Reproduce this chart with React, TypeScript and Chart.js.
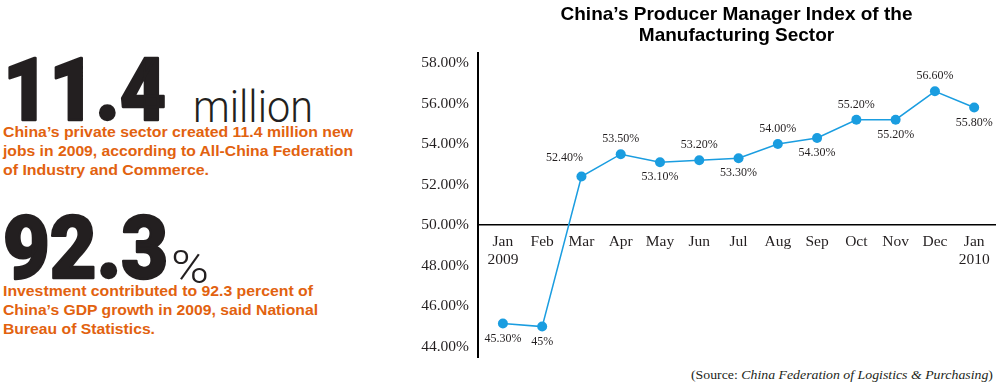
import React, { useEffect, useRef } from "react";
import { Chart, registerables } from "chart.js";

Chart.register(...registerables);

// ---- data ----
const monthLabels: string[][] = [
  ["Jan", "2009"], ["Feb"], ["Mar"], ["Apr"], ["May"], ["Jun"], ["Jul"],
  ["Aug"], ["Sep"], ["Oct"], ["Nov"], ["Dec"], ["Jan", "2010"],
];
const pmiValues: number[] = [45.15, 45.0, 52.4, 53.5, 53.1, 53.2, 53.3, 54.0, 54.3, 55.2, 55.2, 56.6, 55.8];
const pmiLabels: string[] = [
  "45.30%", "45%", "52.40%", "53.50%", "53.10%", "53.20%", "53.30%",
  "54.00%", "54.30%", "55.20%", "55.20%", "56.60%", "55.80%",
];
const labelPlacement: string[] = [
  "below", "below", "aboveLeft", "above", "below", "above", "below",
  "above", "below", "above", "below", "above", "below",
];
const yTicks: number[] = [44, 46, 48, 50, 52, 54, 56, 58];
const titleLines: string[] = ["China\u2019s Producer Manager Index of the", "Manufacturing Sector"];

const BLUE = "#1a9de0";
const INK = "#231f20";
const ORANGE = "#e2620f";
const SERIF = "'Liberation Serif', 'Times New Roman', serif";
const SANS = "'Liberation Sans', Arial, sans-serif";
const HEAVY = "Roboto, 'Liberation Sans', Arial, sans-serif";

const pointLabelPlugin = {
  id: "pointLabels",
  afterDatasetsDraw(chart: any) {
    const ctx = chart.ctx;
    const meta = chart.getDatasetMeta(0);
    ctx.save();
    ctx.font = `12px ${SERIF}`;
    ctx.fillStyle = INK;
    ctx.textAlign = "center";
    ctx.textBaseline = "middle";
    meta.data.forEach((pt: any, i: number) => {
      const place = labelPlacement[i];
      let dx = 0;
      let dy = 15;
      if (place === "above") dy = -15;
      if (place === "aboveLeft") {
        dx = -17;
        dy = -19;
      }
      ctx.fillText(pmiLabels[i], pt.x + dx, pt.y + dy);
    });
    ctx.restore();
  },
};

function PmiChart() {
  const ref = useRef<HTMLCanvasElement | null>(null);
  useEffect(() => {
    if (!ref.current) return;
    const chart = new Chart(ref.current, {
      type: "line",
      data: {
        datasets: [
          {
            data: pmiValues.map((v, i) => ({ x: i, y: v })),
            borderColor: BLUE,
            backgroundColor: BLUE,
            pointBackgroundColor: BLUE,
            pointBorderColor: BLUE,
            pointBorderWidth: 0,
            pointRadius: 5,
            borderWidth: 1.5,
            tension: 0,
            clip: false as any,
          },
        ],
      },
      options: {
        animation: false,
        responsive: false,
        devicePixelRatio: 1,
        layout: { padding: { left: 0, right: 3, top: 0, bottom: 35 } },
        plugins: {
          legend: { display: false },
          tooltip: { enabled: false },
          title: {
            display: true,
            text: titleLines,
            fullSize: false,
            color: "#000",
            font: { family: SANS, size: 19, weight: "bold", lineHeight: 1.1 },
            padding: { top: 4, bottom: 7 },
          },
        },
        scales: {
          x: {
            type: "linear",
            min: -0.634,
            max: 12.53,
            position: { y: 50 } as any,
            grid: { display: false, drawTicks: true, tickLength: 6 },
            border: { display: true, color: "#000", width: 1.5 },
            ticks: {
              padding: 2,
              autoSkip: false,
              maxRotation: 0,
              color: INK,
              font: { family: SERIF, size: 15.5, lineHeight: 1.16 },
              callback: (v: any) => monthLabels[v as number],
            },
            afterBuildTicks: (s: any) => {
              s.ticks = monthLabels.map((_, i) => ({ value: i }));
            },
            afterFit: (s: any) => {
              s.height = 0;
            },
          },
          y: {
            type: "linear",
            min: 43.5,
            max: 58.5,
            grid: { display: false, drawTicks: false },
            border: { display: true, color: "#000", width: 2 },
            ticks: {
              padding: 9,
              color: INK,
              font: { family: SERIF, size: 15.5 },
              callback: (v: any) => Number(v).toFixed(2) + "%",
            },
            afterBuildTicks: (s: any) => {
              s.ticks = yTicks.map((v) => ({ value: v }));
            },
            afterFit: (s: any) => {
              s.width = 98;
            },
          },
        },
      },
      plugins: [pointLabelPlugin],
    });
    return () => chart.destroy();
  }, []);
  return (
    <canvas
      ref={ref}
      width={620}
      height={392}
      style={{ position: "absolute", left: 380, top: 0, width: 620, height: 392 }}
    />
  );
}

export default function App() {
  return (
    <div style={{ position: "absolute", left: 0, top: 0, width: 1000, height: 392, background: "#fff", overflow: "hidden" }}>
      <svg width={1000} height={392} style={{ position: "absolute", left: 0, top: 0 }}>
        <text x={3} y={120} fontFamily={HEAVY} fontWeight={900} fontSize={88}
          fill={INK} stroke={INK} strokeWidth={2.5} strokeLinejoin="round"
          textLength={163} lengthAdjust="spacingAndGlyphs">11.4</text>
        <text x={193} y={122} fontFamily={HEAVY} fontWeight={300} fontSize={44}
          fill={INK} textLength={120} lengthAdjust="spacingAndGlyphs">million</text>
        <g fontFamily={SANS} fontWeight={700} fontSize={15} fill={ORANGE}>
          <text x={3} y={137} textLength={350} lengthAdjust="spacingAndGlyphs">China’s private sector created 11.4 million new</text>
          <text x={3} y={156} textLength={350} lengthAdjust="spacingAndGlyphs">jobs in 2009, according to All-China Federation</text>
          <text x={3} y={175} textLength={206} lengthAdjust="spacingAndGlyphs">of Industry and Commerce.</text>
        </g>
        <text x={3} y={278} fontFamily={HEAVY} fontWeight={900} fontSize={88}
          fill={INK} stroke={INK} strokeWidth={2.5} strokeLinejoin="round"
          textLength={165} lengthAdjust="spacingAndGlyphs">92.3</text>
        <text x={171} y={283} fontFamily={HEAVY} fontWeight={300} fontSize={46}
          fill={INK} textLength={38} lengthAdjust="spacingAndGlyphs">%</text>
        <g fontFamily={SANS} fontWeight={700} fontSize={15} fill={ORANGE}>
          <text x={3} y={296} textLength={310} lengthAdjust="spacingAndGlyphs">Investment contributed to 92.3 percent of</text>
          <text x={3} y={315} textLength={315} lengthAdjust="spacingAndGlyphs">China’s GDP growth in 2009, said National</text>
          <text x={3} y={334} textLength={152} lengthAdjust="spacingAndGlyphs">Bureau of Statistics.</text>
        </g>
        <text x={691} y={379} fontFamily={SERIF} fontSize={13} fill={INK} textLength={302} lengthAdjust="spacingAndGlyphs">
          (Source: <tspan fontStyle="italic">China Federation of Logistics &amp; Purchasing</tspan>)
        </text>
      </svg>
      <PmiChart />
    </div>
  );
}
